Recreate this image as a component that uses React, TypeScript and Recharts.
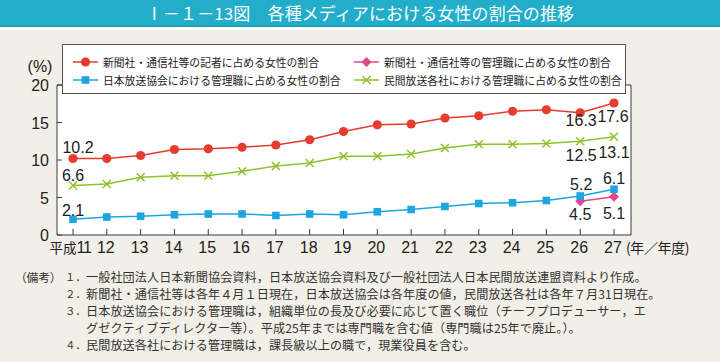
import React from 'react';
import { LineChart, Line, XAxis, YAxis, CartesianGrid, Legend, LabelList } from 'recharts';

// 平成11〜27年（年度）
const years = ['11', '12', '13', '14', '15', '16', '17', '18', '19', '20', '21', '22', '23', '24', '25', '26', '27'];
const reporterShare = [10.2, 10.2, 10.6, 11.4, 11.5, 11.7, 12.0, 12.7, 13.8, 14.7, 14.8, 15.6, 15.9, 16.5, 16.7, 16.3, 17.6];
const newsManagerShare = [null, null, null, null, null, null, null, null, null, null, null, null, null, null, null, 4.5, 5.1];
const nhkManagerShare = [2.1, 2.4, 2.5, 2.7, 2.8, 2.8, 2.6, 2.8, 2.7, 3.1, 3.4, 3.8, 4.2, 4.3, 4.6, 5.2, 6.1];
const commercialManagerShare = [6.6, 6.8, 7.7, 7.9, 7.9, 8.5, 9.2, 9.6, 10.5, 10.5, 10.8, 11.6, 12.1, 12.1, 12.2, 12.5, 13.1];
const yTicks = [0, 5, 10, 15, 20];

const notes = [
  ['１．', '一般社団法人日本新聞協会資料，日本放送協会資料及び一般社団法人日本民間放送連盟資料より作成。'],
  ['２．', '新聞社・通信社等は各年４月１日現在，日本放送協会は各年度の値，民間放送各社は各年７月31日現在。'],
  ['３．', '日本放送協会における管理職は，組織単位の長及び必要に応じて置く職位（チーフプロデューサー，エ'],
  ['', 'グゼクティブディレクター等）。平成25年までは専門職を含む値（専門職は25年で廃止。）。'],
  ['４．', '民間放送各社における管理職は，課長級以上の職で，現業役員を含む。'],
];

const chartData = years.map((y, i) => ({
  year: y,
  reporter: reporterShare[i],
  newsMgr: newsManagerShare[i],
  nhk: nhkManagerShare[i],
  commercial: commercialManagerShare[i],
}));

const series = [
  { key: 'reporter', name: '新聞社・通信社等の記者に占める女性の割合', color: '#E63B2F', shape: 'circle' },
  { key: 'newsMgr', name: '新聞社・通信社等の管理職に占める女性の割合', color: '#E4468E', shape: 'diamond' },
  { key: 'nhk', name: '日本放送協会における管理職に占める女性の割合', color: '#1CA5E0', shape: 'square' },
  { key: 'commercial', name: '民間放送各社における管理職に占める女性の割合', color: '#8CC22B', shape: 'cross' },
];

// which points get a value label: index -> [dx, dy] from the point to the label centre
const labelSpots: Record<string, Record<number, [number, number]>> = {
  reporter: { 0: [5, -12], 15: [1, 7], 16: [-1, 13] },
  newsMgr: { 15: [0, 13], 16: [0, 16.5] },
  nhk: { 0: [0, -9.5], 15: [1, -12], 16: [0, -11.5] },
  commercial: { 0: [0, -11], 15: [1, 13.5], 16: [0, 15.5] },
};

const NUM_FONT = '"Liberation Sans", Arial, sans-serif';
const JP_FONT = '"Noto Sans CJK JP", "Noto Sans", sans-serif';
const AXIS = '#3a3a3a';

function marker(shape: string, color: string, cx: number, cy: number, key?: any) {
  switch (shape) {
    case 'circle':
      return <circle key={key} cx={cx} cy={cy} r={4.6} fill={color} />;
    case 'square':
      return <rect key={key} x={cx - 3.8} y={cy - 3.8} width={7.6} height={7.6} fill={color} />;
    case 'diamond':
      return <path key={key} d={`M${cx},${cy - 5}L${cx + 5},${cy}L${cx},${cy + 5}L${cx - 5},${cy}Z`} fill={color} />;
    default:
      return (
        <path key={key} d={`M${cx - 4},${cy - 4}L${cx + 4},${cy + 4}M${cx + 4},${cy - 4}L${cx - 4},${cy + 4}`}
          stroke={color} strokeWidth={1.5} fill="none" />
      );
  }
}

function XTick(props: any) {
  const { x, y, payload, index } = props;
  const last = index === years.length - 1;
  return (
    <g>
      <line x1={x} x2={x} y1={y - 6} y2={y} stroke={AXIS} />
      {index === 0 ? (
        <text x={x + 18} y={y + 18} textAnchor="end" fontSize={16} fill="#222" fontFamily={NUM_FONT}>
          <tspan fontFamily={JP_FONT} fontSize={13.5}>平成</tspan>
          <tspan letterSpacing={-1}>{payload.value}</tspan>
        </text>
      ) : (
        <text x={x - 1} y={y + 18} textAnchor="middle" fontSize={16} fill="#222" fontFamily={NUM_FONT}>
          {payload.value}
        </text>
      )}
      {last && (
        <text x={x + 12} y={y + 18} fontSize={14} letterSpacing={-0.4} fill="#222" fontFamily={JP_FONT}>(年／年度)</text>
      )}
    </g>
  );
}

function YTick(props: any) {
  const { x, y, payload } = props;
  return (
    <g>
      <line x1={x} x2={x + 5} y1={y} y2={y} stroke={AXIS} />
      <text x={x - 8} y={y + 6} textAnchor="end" fontSize={16} fill="#222" fontFamily={NUM_FONT}>
        {payload.value}
      </text>
    </g>
  );
}

function LegendBox() {
  return (
    <div style={{
      width: 562, height: 48, background: '#fff', border: '1px solid #555',
      position: 'relative', fontFamily: JP_FONT, fontSize: 10.8, color: '#222',
    }}>
      {series.map((s, i) => {
        const col = i % 2;
        const row = Math.floor(i / 2);
        return (
          <div key={s.key} style={{
            position: 'absolute', left: col === 0 ? 9 : 290, top: row === 0 ? 8 : 26,
            height: 18, display: 'flex', alignItems: 'center', whiteSpace: 'nowrap',
          }}>
            <svg width={28} height={18} style={{ marginRight: 3 }}>
              <line x1={1} x2={26} y1={9} y2={9} stroke={s.color} strokeWidth={1.5} />
              {marker(s.shape, s.color, 13.5, 9)}
            </svg>
            <span>{s.name}</span>
          </div>
        );
      })}
    </div>
  );
}

export default function App() {
  return (
    <div style={{ position: 'relative', width: 720, height: 362, background: '#F2EFE8', overflow: 'hidden' }}>
      <style>{'body{margin:0}'}</style>
      <div style={{
        position: 'absolute', left: 0, top: 0, width: 720, height: 26, background: '#22AECA',
        borderBottom: '1px solid #1896b0', color: '#fff', fontFamily: JP_FONT, fontSize: 17,
        letterSpacing: 0.1, lineHeight: '26px', textAlign: 'center',
      }}>
        Ⅰ－１－13図　各種メディアにおける女性の割合の推移
      </div>
      <div style={{ position: 'absolute', left: 0, top: 27, width: 720, height: 3, background: '#fff' }} />

      <div style={{ position: 'absolute', left: 0, top: 0 }}>
        <LineChart width={720} height={270} data={chartData} margin={{ top: 85, right: 89, bottom: 0, left: 7 }}>
          <CartesianGrid
            fill="#fff"
            stroke={AXIS}
            horizontalCoordinatesGenerator={({ offset }: any) => [offset.top]}
            verticalCoordinatesGenerator={({ offset }: any) => [offset.left + offset.width]}
          />
          <XAxis
            dataKey="year"
            height={35}
            padding={{ left: 16, right: 17 }}
            tickSize={0}
            tickMargin={0}
            tickLine={false}
            axisLine={{ stroke: AXIS }}
            interval={0}
            tick={<XTick />}
          />
          <YAxis
            width={50}
            domain={[0, 20]}
            ticks={yTicks}
            tickSize={0}
            tickMargin={0}
            tickLine={false}
            axisLine={{ stroke: AXIS }}
            tick={<YTick />}
            label={(p: any) => (
              <text x={p.viewBox.x + 33} y={p.viewBox.y - 13} textAnchor="middle" fontSize={16}
                fill="#222" fontFamily={NUM_FONT}>(%)</text>
            )}
          />
          <Legend
            layout="horizontal"
            verticalAlign="middle"
            align="center"
            wrapperStyle={{ left: 62, top: 44, width: 564, height: 50 }}
            content={() => <LegendBox />}
          />
          {series.map((s) => (
            <Line
              key={s.key}
              dataKey={s.key}
              name={s.name}
              stroke={s.color}
              strokeWidth={1.5}
              isAnimationActive={false}
              activeDot={false}
              dot={(p: any) =>
                p.cx == null || p.cy == null || p.value == null
                  ? <g key={p.index} />
                  : marker(s.shape, s.color, p.cx, p.cy, p.index)
              }
            >
              <LabelList
                dataKey={s.key}
                content={(p: any) => {
                  const spot = labelSpots[s.key][p.index];
                  if (!spot || p.value == null) return null;
                  return (
                    <text x={p.x + spot[0]} y={p.y + spot[1] + 6} textAnchor="middle" fontSize={16}
                      fill="#222" fontFamily={NUM_FONT}>
                      {Number(p.value).toFixed(1)}
                    </text>
                  );
                }}
              />
            </Line>
          ))}
        </LineChart>
      </div>

      {notes.map((n, i) => (
        <div key={i} style={{
          position: 'absolute', top: 269 + i * 17, left: 0, height: 16, lineHeight: '16px',
          fontFamily: JP_FONT, color: '#333', whiteSpace: 'nowrap',
        }}>
          {i === 0 && (
            <span style={{ position: 'absolute', left: 15, fontSize: 11.8, letterSpacing: -0.2 }}>（備考）</span>
          )}
          {n[0] && <span style={{ position: 'absolute', left: 65, fontSize: 10.5 }}>{n[0]}</span>}
          <span style={{ position: 'absolute', left: 86, fontSize: 12.1, letterSpacing: 0.1 }}>{n[1]}</span>
        </div>
      ))}
    </div>
  );
}
